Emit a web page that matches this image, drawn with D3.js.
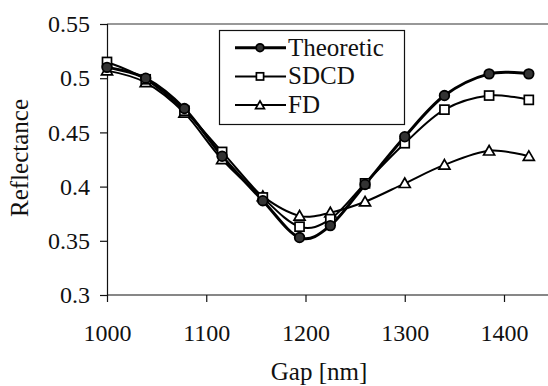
<!DOCTYPE html>
<html>
<head>
<meta charset="utf-8">
<script src="https://cdn.jsdelivr.net/npm/d3@7"></script>
<style>
  html, body { margin: 0; padding: 0; background: #fff; }
  svg { display: block; }
  svg text { font-family: "Liberation Serif", "Times New Roman", serif !important; }
</style>
</head>
<body>
<svg id="chart" width="548" height="386"></svg>
<script>
const gaps = [1000, 1039, 1078, 1116, 1157, 1194, 1225, 1260, 1300, 1340, 1385, 1425];
const theoretic = [0.510, 0.500, 0.472, 0.428, 0.387, 0.353, 0.364, 0.402, 0.446, 0.484, 0.504, 0.504];
const sdcd = [0.515, 0.499, 0.470, 0.432, 0.390, 0.363, 0.370, 0.403, 0.440, 0.471, 0.484, 0.480];
const fd = [0.507, 0.496, 0.468, 0.425, 0.391, 0.373, 0.376, 0.386, 0.403, 0.420, 0.433, 0.428];
const seriesNames = ["Theoretic", "SDCD", "FD"];
const xTicks = [1000, 1100, 1200, 1300, 1400];
const yTicks = [0.3, 0.35, 0.4, 0.45, 0.5, 0.55];

const FONT = '"Liberation Serif", "Times New Roman", serif';
const svg = d3.select("#chart");
const x = d3.scaleLinear().domain([1000, 1400]).range([107, 504]);
const y = d3.scaleLinear().domain([0.3, 0.55]).range([295, 24]);

// top border
svg.append("line").attr("x1", 107).attr("x2", 548).attr("y1", y(0.55)).attr("y2", y(0.55))
  .attr("stroke", "#333").attr("stroke-width", 1.2);

const xAxis = svg.append("g").attr("transform", `translate(0,${y(0.3)})`)
  .call(d3.axisBottom(x).tickValues(xTicks).tickSize(7).tickPadding(22).tickFormat(d3.format("d")));
xAxis.select(".domain").attr("d", `M107,0H548`);
const yAxis = svg.append("g").attr("transform", `translate(${x(1000)},0)`)
  .call(d3.axisLeft(y).tickValues(yTicks).tickSize(7).tickPadding(10).tickFormat(d => String(+d.toFixed(2))));
[xAxis, yAxis].forEach(a => {
  a.attr("font-family", FONT).attr("font-size", 24);
  a.selectAll("path,line").attr("stroke", "#111").attr("stroke-width", 1.2);
  a.selectAll("text").attr("fill", "#111").style("font-size", "24px").style("font-family", FONT);
});
xAxis.selectAll("text").attr("dy", "0.71em").attr("y", 29);
yAxis.selectAll("text").attr("x", -17);

svg.append("text").attr("x", 319).attr("y", 380).attr("text-anchor", "middle")
  .style("font-size", "25px").style("font-family", FONT).attr("fill", "#111").text("Gap [nm]");
svg.append("text").attr("transform", "translate(28,158) rotate(-90)").attr("text-anchor", "middle")
  .style("font-size", "25px").style("font-family", FONT).attr("fill", "#111").text("Reflectance");

const data = [theoretic, sdcd, fd].map((vals, i) => ({
  name: seriesNames[i],
  pts: gaps.map((g, j) => ({ g, v: vals[j] }))
}));
const styles = {
  Theoretic: { w: 3, marker: "circle" },
  SDCD: { w: 2, marker: "square" },
  FD: { w: 2, marker: "triangle" }
};
const line = d3.line().x(d => x(d.g)).y(d => y(d.v)).curve(d3.curveCardinal.tension(0));

function drawMarker(g, type, cx, cy, scale) {
  if (type === "circle") {
    g.append("circle").attr("cx", cx).attr("cy", cy).attr("r", 4.8 * scale)
      .attr("fill", "#333").attr("stroke", "#000").attr("stroke-width", 1.8);
  } else if (type === "square") {
    const s = 9 * scale;
    g.append("rect").attr("x", cx - s / 2).attr("y", cy - s / 2).attr("width", s).attr("height", s)
      .attr("fill", "#fff").attr("stroke", "#000").attr("stroke-width", 1.7);
  } else {
    const s = 11 * scale;
    g.append("path").attr("d", d3.symbol(d3.symbolTriangle, s * s * 0.433)())
      .attr("transform", `translate(${cx},${cy + 1})`)
      .attr("fill", "#fff").attr("stroke", "#000").attr("stroke-width", 1.7);
  }
}

const plot = svg.append("g");
[...data].reverse().forEach(s => {
  plot.append("path").attr("d", line(s.pts)).attr("fill", "none")
    .attr("stroke", "#000").attr("stroke-width", styles[s.name].w);
});
[...data].reverse().forEach(s => {
  const g = plot.append("g");
  s.pts.forEach(p => drawMarker(g, styles[s.name].marker, x(p.g), y(p.v), 1));
});

// legend
const lg = svg.append("g");
lg.append("rect").attr("x", 219.5).attr("y", 30.5).attr("width", 185).attr("height", 94)
  .attr("fill", "#fff").attr("stroke", "#111").attr("stroke-width", 1.2);
data.forEach((s, i) => {
  const cy = 47.7 + i * 28.7;
  lg.append("line").attr("x1", 235).attr("x2", 286).attr("y1", cy).attr("y2", cy)
    .attr("stroke", "#000").attr("stroke-width", styles[s.name].w);
  drawMarker(lg, styles[s.name].marker, 260, cy, 0.8);
  lg.append("text").attr("x", 288).attr("y", cy + 8)
    .style("font-size", "25px").style("font-family", FONT).attr("fill", "#111").text(s.name);
});
</script>
</body>
</html>
